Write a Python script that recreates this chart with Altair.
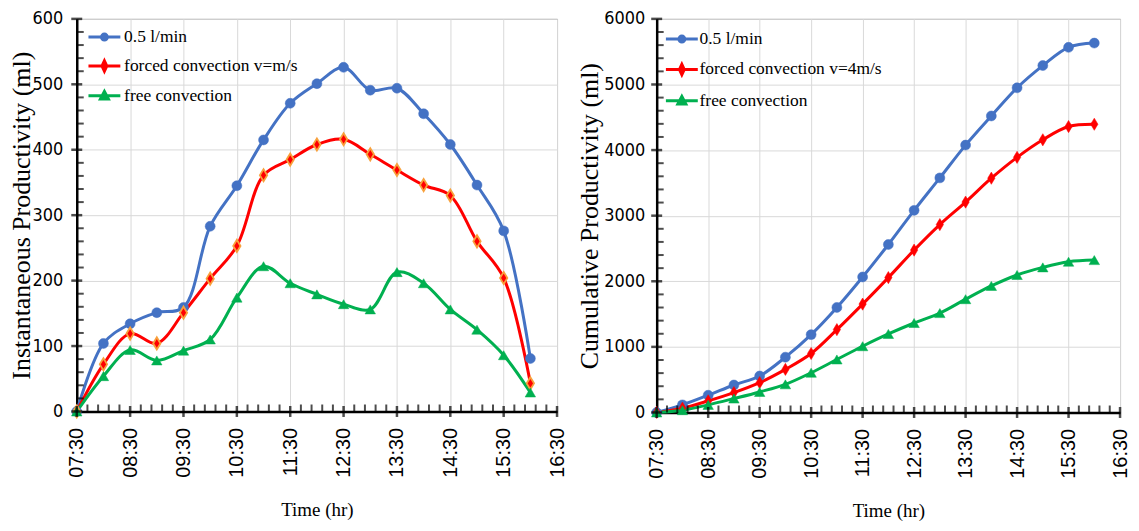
import altair as alt
import pandas as pd

times = ["07:30", "08:00", "08:30", "09:00", "09:30", "10:00", "10:30", "11:00", "11:30",
         "12:00", "12:30", "13:00", "13:30", "14:00", "14:30", "15:00", "15:30", "16:00"]

inst_flow = [0, 104, 134, 151, 159, 283, 345, 415, 471, 501, 526, 491, 494, 455, 408, 346, 276, 81]
inst_forced = [0, 72, 119, 104, 151, 203, 253, 361, 385, 408, 416, 393, 369, 346, 330, 260, 204, 43]
inst_free = [0, 54, 94, 78, 93, 110, 174, 222, 196, 179, 164, 156, 213, 196, 156, 125, 86, 29]

cum_flow = [0, 116, 263, 419, 556, 843, 1187, 1601, 2066, 2561, 3081, 3576, 4076, 4520, 4949, 5288, 5566, 5631]
cum_forced = [0, 66, 177, 303, 455, 657, 899, 1263, 1652, 2056, 2475, 2864, 3207, 3571, 3889, 4157, 4359, 4394]
cum_free = [0, 35, 116, 212, 313, 429, 606, 808, 1010, 1197, 1364, 1515, 1727, 1929, 2096, 2212, 2298, 2323]

left_labels = ["0.5 l/min", "forced convection v=m/s", "free convection"]
right_labels = ["0.5 l/min", "forced convection v=4m/s", "free convection"]

major_x = ["07:30", "08:30", "09:30", "10:30", "11:30", "12:30", "13:30", "14:30", "15:30", "16:30"]
left_y_ticks = [0, 100, 200, 300, 400, 500, 600]
right_y_ticks = [0, 1000, 2000, 3000, 4000, 5000, 6000]

colors = ["#4472C4", "#FF0000", "#00B050"]
marker_shapes = ["circle", "M0,-1L0.6,0L0,1L-0.6,0Z", "triangle-up"]
marker_sizes = [100, 150, 110]
legend_paths = [
    "M-4,0H4M0.75,0A0.75,0.75 0 1,1 -0.75,0A0.75,0.75 0 1,1 0.75,0Z",
    "M-4,0H4M0,-1.3L0.6,0L0,1.3L-0.6,0Z",
    "M-4,0H4M0,-1.1L1.0,0.8L-1.0,0.8Z",
]


def hours(t):
    h, m = t.split(":")
    return int(h) + int(m) / 60.0


major_h = [hours(t) for t in major_x]
minor_h = [7.5 + k * 0.2 for k in range(46) if k % 5 != 0]

LABEL_FONT = "Liberation Sans Narrow, DejaVu Sans Condensed, Liberation Sans, sans-serif"
SERIF = "Liberation Serif"


def panel(series, labels, ymax, yticks, ytitle, width, height, red_stroke,
          leg_x, leg_y, leg_off, leg_row, y_ext, y_lpad):
    rows = []
    for lab, vals in zip(labels, series):
        for t, v in zip(times, vals):
            rows.append({"t": hours(t), "v": v, "s": lab})
    df = pd.DataFrame(rows)

    ystep = yticks[1] - yticks[0]
    minor_y = [k * ystep / 5 for k in range(int(ymax / ystep * 5) + 1) if k % 5 != 0]

    xs = alt.Scale(domain=[7.5, 16.5], nice=False, zero=False)
    ys = alt.Scale(domain=[0, ymax], nice=False)
    xaxis = alt.Axis(values=major_h, title="Time (hr)",
                     labelExpr="(floor(datum.value) < 10 ? '0' : '') + floor(datum.value) + ':30'",
                     labelAngle=-90, labelAlign="right", labelBaseline="middle",
                     labelFont="Liberation Sans", labelFontSize=20, labelPadding=16,
                     titleFont=SERIF, titleFontSize=19, titlePadding=21,
                     minExtent=68, maxExtent=68, grid=True)
    yaxis = alt.Axis(values=yticks, title=ytitle, format="d", labelFont=LABEL_FONT, labelFontSize=18,
                     labelPadding=y_lpad, titleFont=SERIF, titleFontSize=26, titlePadding=2,
                     minExtent=y_ext, maxExtent=y_ext, grid=True)

    def enc(ch):
        return ch.encode(x=alt.X("t:Q", scale=xs, axis=xaxis),
                         y=alt.Y("v:Q", scale=ys, axis=yaxis))

    layers = []
    for lab, c in zip(labels, colors):
        layers.append(enc(alt.Chart(df).transform_filter(alt.datum.s == lab)
                          .mark_line(color=c, strokeWidth=3, interpolate="catmull-rom")))
    for i, (lab, c) in enumerate(zip(labels, colors)):
        stroke = c
        sw = 0.5
        if i == 1 and red_stroke:
            stroke = "#F8A13C"
            sw = 1.8
        layers.append(enc(alt.Chart(df).transform_filter(alt.datum.s == lab)
                          .mark_point(shape=marker_shapes[i], size=marker_sizes[i], filled=True,
                                      fill=c, stroke=stroke, strokeWidth=sw, opacity=1)))

    xmaj = pd.DataFrame({"t": major_h, "v": [0] * len(major_h)})
    xmin = pd.DataFrame({"t": minor_h, "v": [0] * len(minor_h)})
    ymaj = pd.DataFrame({"t": [7.5] * len(yticks), "v": yticks})
    ymin = pd.DataFrame({"t": [7.5] * len(minor_y), "v": minor_y})
    layers.append(enc(alt.Chart(xmaj).mark_tick(orient="vertical", size=11, thickness=2.5, color="black")))
    layers.append(enc(alt.Chart(xmin).mark_tick(orient="vertical", size=7, thickness=2, color="black", yOffset=-3.5)))
    layers.append(enc(alt.Chart(ymaj).mark_tick(orient="horizontal", size=11, thickness=2.5, color="black")))
    layers.append(enc(alt.Chart(ymin).mark_tick(orient="horizontal", size=7, thickness=2, color="black", xOffset=3.5)))

    leg = alt.Legend(title=None, orient="none", legendX=leg_x, legendY=leg_y,
                     labelFont=SERIF, labelFontSize=17.5, labelColor="black",
                     labelOffset=leg_off, rowPadding=leg_row, symbolSize=64,
                     symbolStrokeWidth=3, labelLimit=400, padding=0)
    legend_layer = alt.Chart(df).transform_filter("false").mark_point(
        filled=True, opacity=1, size=64, strokeWidth=3
    ).encode(
        x=alt.X("t:Q", scale=xs, axis=xaxis),
        y=alt.Y("v:Q", scale=ys, axis=yaxis),
        fill=alt.Fill("s:N", scale=alt.Scale(domain=labels, range=colors), legend=leg),
        stroke=alt.Stroke("s:N", scale=alt.Scale(domain=labels, range=colors), legend=leg),
        shape=alt.Shape("s:N", scale=alt.Scale(domain=labels, range=legend_paths), legend=leg),
    )
    layers.append(legend_layer)
    return alt.layer(*layers).properties(width=width, height=height)


left = panel([inst_flow, inst_forced, inst_free], left_labels, 600, left_y_ticks,
             "Instantaneous Productivity (ml)", 482, 394, True, 19, 9.5, 11, 8.0, 40, 14)
right = panel([cum_flow, cum_forced, cum_free], right_labels, 6000, right_y_ticks,
              "Cumulative Productivity (ml)", 465, 395, False, 16.5, 11.5, 9, 9.5, 52, 12)

chart = alt.hconcat(left, right, spacing=8).resolve_scale(
    x="independent", y="independent", fill="independent", stroke="independent", shape="independent"
).resolve_legend(fill="independent", stroke="independent", shape="independent").properties(
    padding=0
).configure_axis(
    labelColor="black", titleColor="black", titleFontWeight="normal",
    domainColor="black", domainWidth=2.5, gridColor="#d9d9d9", gridWidth=1,
    ticks=False, tickSize=0
).configure_view(stroke="#808080", strokeWidth=1)

chart.save("out.html", embed_options={"renderer": "svg", "actions": False})
